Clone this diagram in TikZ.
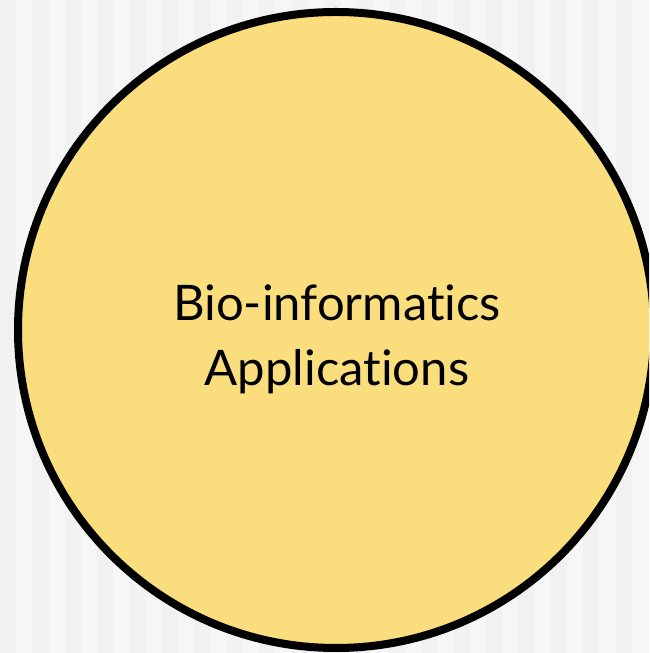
\documentclass[tikz,border=0pt]{standalone}
\usepackage{fontspec}
\setsansfont{Lato}[Ligatures=NoCommon]
\definecolor{bgdark}{HTML}{F1F1F1}
\definecolor{bglight}{HTML}{F6F6F6}
\definecolor{bioyellow}{HTML}{FADE7D}
\begin{document}
\begin{tikzpicture}[x=1pt,y=1pt]
    \useasboundingbox (0,0) rectangle (649,653);
    \clip (0,0) rectangle (649,653);
    \begin{scope}[font=\sffamily]

    % striped background
    \fill[fill=bglight] (0,0) rectangle (649,653);
    \foreach \i in {0,...,19}
        \fill[fill=bgdark] ({32.4*\i},0) rectangle ({32.4*\i+16.2},653);

    \draw[line width=8pt,fill=bioyellow] (336,323) circle (318);
    \node[align=center,font=\fontsize{49}{65}\selectfont\sffamily] (bioapps) at (337,314) {Bio-informatics\\Applications};

    \end{scope}
\end{tikzpicture}
\end{document}
